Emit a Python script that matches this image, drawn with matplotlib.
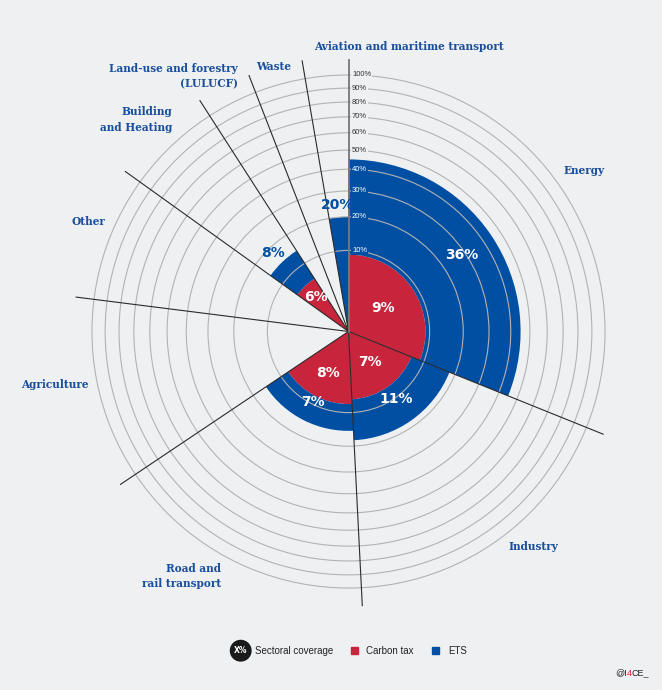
import numpy as np
import matplotlib
matplotlib.use('Agg')
import matplotlib.pyplot as plt
from matplotlib.patches import Rectangle

# Sectors clockwise from the top
sectors = ['Energy', 'Industry', 'Road and\nrail transport', 'Agriculture', 'Other',
           'Building\nand Heating', 'Land-use and forestry\n(LULUCF)', 'Waste',
           'Aviation and maritime transport']
# sectoral coverage = angular width of each slice (%)
emission_share = [31.1, 18.1, 16.4, 11.4, 7.9, 6.0, 3.2, 3.2, 2.7]
carbon_tax = [9, 7, 8, 0, 0, 6, 0, 0, 0]
ets = [36, 11, 7, 0, 0, 8, 0, 0, 20]
rings = [10, 20, 30, 40, 50, 60, 70, 80, 90, 100]

BG = '#eef0f2'
RED = '#c8253d'
BLUE = '#004fa3'
TXT_BLUE = '#1a4f9c'

W, H = 662, 690
fig = plt.figure(figsize=(W / 100, H / 100), dpi=100, facecolor=BG)

# polar axes centred at (348.5, 331.5) px, radius 275 px for r=115
cx, cy, R = 348.5, 331.5, 275.1
ax = fig.add_axes([(cx - R) / W, (H - cy - R) / H, 2 * R / W, 2 * R / H], projection='polar')
ax.set_facecolor('none')
ax.set_theta_zero_location('N')
ax.set_theta_direction(-1)
ax.set_rscale('function', functions=(lambda v: np.sqrt(np.clip(v, 0, None)), lambda r: r ** 2))
ax.set_rlim(0, 115)
ax.spines['polar'].set_visible(False)

share = np.array(emission_share)
starts = np.concatenate([[0], np.cumsum(share)[:-1]]) / 100 * 2 * np.pi
widths = share / 100 * 2 * np.pi
mids = starts + widths / 2
tax = np.array(carbon_tax)
trade = np.array(ets)

ax.bar(starts, tax, width=widths, bottom=0, align='edge', color=RED, linewidth=0, zorder=1)
ax.bar(starts, trade, width=widths, bottom=tax, align='edge', color=BLUE, linewidth=0, zorder=1)

# rings
ax.set_xticks([])
ax.set_rticks(rings)
ax.set_yticklabels([])
ax.yaxis.grid(True, color='#b3b3b3', linewidth=0.8)
ax.tick_params(axis='y', length=0)

# sector boundaries
for t in starts[1:]:
    ax.plot([t, t], [0, 115], color='#2b2b2b', lw=0.8, zorder=3)
ax.plot([0, 0], [0, 112], color='#777777', lw=1.3, zorder=3)

# ring labels along the vertical axis
for v in rings:
    inside = tax[0] < v <= tax[0] + trade[0]
    ax.annotate(f'{v}%', xy=(0, v), xytext=(2.5, 0), textcoords='offset points',
                ha='left', va='center', fontsize=5.5, family='Liberation Sans',
                color='white' if inside else '#333333', zorder=4,
                bbox=dict(boxstyle='square,pad=0.1', fc=BLUE if inside else BG, ec='none'))

# value labels (radius in %, layout only)
tax_label_r = [2.7, 2.1, 3.3, None, None, 3.4, None, None, None]
ets_label_r = [28.5, 10.3, 9.5, None, None, 18, None, None, 24.3]
vfont = dict(fontsize=10, fontweight='bold', family='DejaVu Sans',
             ha='center', va='center', zorder=5)
for i in range(len(sectors)):
    if tax[i] > 0:
        ax.text(mids[i], tax_label_r[i], f'{tax[i]}%', color='white', **vfont)
    if trade[i] > 0:
        r = ets_label_r[i]
        col = 'white' if r < tax[i] + trade[i] else BLUE
        ax.text(mids[i], r, f'{trade[i]}%', color=col, **vfont)

# sector names (pixel positions, layout only)
name_pos = [(584, 170, 'center'), (533, 546, 'center'), (221, 576, 'right'),
            (55, 385, 'center'), (88, 222, 'center'), (172, 119.5, 'right'),
            (238, 76, 'right'), (274, 66, 'center'), (409, 46, 'center')]
for name, (x, y, ha) in zip(sectors, name_pos):
    fig.text(x / W, 1 - y / H, name, ha=ha, va='center', multialignment=ha,
             fontsize=7.6, fontweight='bold', family='DejaVu Serif', color=TXT_BLUE,
             linespacing=1.45)

# legend
ly = 1 - 650.7 / H
fig.text(240.7 / W, ly, 'X%', ha='center', va='center', fontsize=5.5, fontweight='bold',
         color='white', bbox=dict(boxstyle='circle,pad=0.55', fc='#1a1a1a', ec='none'))
lfont = dict(fontsize=7, family='Liberation Sans', color='#222222', va='center')
fig.text(255 / W, ly, 'Sectoral coverage', **lfont)
sq = 7.3
fig.add_artist(Rectangle((351 / W, ly - sq / 2 / H), sq / W, sq / H, color=RED, transform=fig.transFigure))
fig.text(366 / W, ly, 'Carbon tax', **lfont)
fig.add_artist(Rectangle((431.7 / W, ly - sq / 2 / H), sq / W, sq / H, color=BLUE, transform=fig.transFigure))
fig.text(448.3 / W, ly, 'ETS', **lfont)

# credit
fig.canvas.draw()
renderer = fig.canvas.get_renderer()
x0 = 615
for part, col in [('@I', '#222222'), ('4', '#e0202a'), ('CE_', '#222222')]:
    t = fig.text(x0 / W, 1 - 673 / H, part, fontsize=6.5, family='Liberation Sans',
                 color=col, va='center', ha='left')
    x0 += t.get_window_extent(renderer).width

fig.savefig('out.png', dpi=100, facecolor=BG)
